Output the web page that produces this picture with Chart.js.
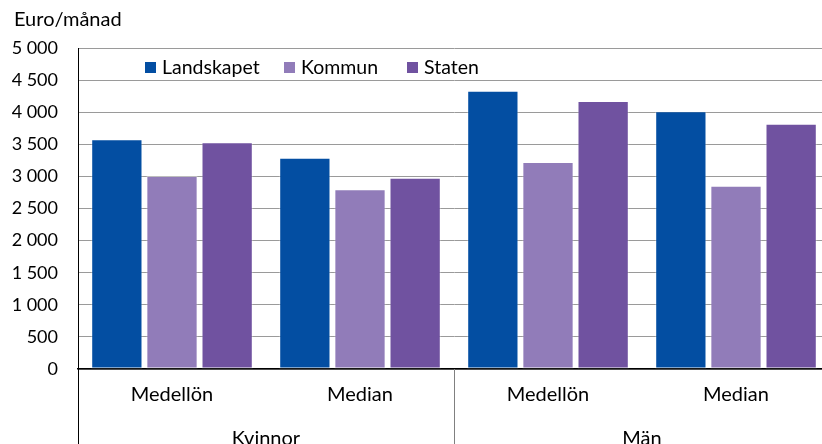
<!DOCTYPE html>
<html>
<head>
<meta charset="utf-8">
<script src="https://cdn.jsdelivr.net/npm/chart.js@4.4.1/dist/chart.umd.min.js"></script>
<style>
  html, body { margin: 0; padding: 0; background: #fff; overflow: hidden; }
  #wrap { width: 832px; height: 444px; position: relative; }
</style>
</head>
<body>
<div id="wrap"><canvas id="chart"></canvas></div>
<script>
// data
var categories = ["Medellön", "Median", "Medellön", "Median"];
var groups = ["Kvinnor", "Män"];
var seriesNames = ["Landskapet", "Kommun", "Staten"];
var landskapet = [3580, 3290, 4335, 4015];
var kommun = [3005, 2800, 3225, 2855];
var staten = [3530, 2980, 4175, 3820];
var yTitle = "Euro/månad";

var colors = ["#034EA2", "#917CB9", "#7052A0"];
var FONT = "Lato";

function fmt(v) {
  return String(v).replace(/\B(?=(\d{3})+(?!\d))/g, " ");
}

// title, legend inside the plot, group labels and dividers under the x axis
var extras = {
  id: "extras",
  afterDraw: function(chart) {
    var ctx = chart.ctx, area = chart.chartArea, x = chart.scales.x;
    ctx.save();
    ctx.fillStyle = "#000";
    ctx.font = "20px " + FONT;
    ctx.textBaseline = "alphabetic";
    ctx.textAlign = "left";
    ctx.fillText(yTitle, 14, 26);

    // legend
    var lx = [145, 284, 407];
    ctx.font = "19.5px " + FONT;
    chart.data.datasets.forEach(function(ds, i) {
      ctx.fillStyle = ds.backgroundColor;
      ctx.fillRect(lx[i], 62, 11, 11);
      ctx.fillStyle = "#000";
      ctx.fillText(ds.label, lx[i] + 17, 74);
    });

    // group dividers and labels
    var h = chart.height;
    var mid = (x.getPixelForValue(1) + x.getPixelForValue(2)) / 2;
    ctx.strokeStyle = "#000";
    ctx.lineWidth = 1;
    ctx.beginPath();
    ctx.moveTo(area.left + 0.5, area.bottom);
    ctx.lineTo(area.left + 0.5, h);
    ctx.stroke();
    ctx.strokeStyle = "#808080";
    ctx.beginPath();
    ctx.moveTo(Math.round(mid) + 0.5, area.bottom);
    ctx.lineTo(Math.round(mid) + 0.5, h);
    ctx.stroke();

    ctx.font = "20px " + FONT;
    ctx.fillStyle = "#000";
    ctx.textAlign = "center";
    groups.forEach(function(g, i) {
      var cx = (x.getPixelForValue(i * 2) + x.getPixelForValue(i * 2 + 1)) / 2;
      ctx.fillText(g, cx, 445);
    });
    ctx.restore();
  }
};

new Chart(document.getElementById("chart"), {
  type: "bar",
  data: {
    labels: categories,
    datasets: [
      { label: seriesNames[0], data: landskapet, backgroundColor: colors[0] },
      { label: seriesNames[1], data: kommun, backgroundColor: colors[1] },
      { label: seriesNames[2], data: staten, backgroundColor: colors[2] }
    ]
  },
  options: {
    responsive: true,
    maintainAspectRatio: false,
    animation: false,
    layout: { padding: { top: 48, left: 0, right: 2, bottom: 40 } },
    datasets: {
      bar: {
        categoryPercentage: 0.88,
        barPercentage: 0.93,
        borderWidth: 1,
        borderColor: "rgba(255,255,255,0.35)",
        borderSkipped: false
      }
    },
    plugins: {
      legend: { display: false },
      tooltip: { enabled: false }
    },
    scales: {
      x: {
        grid: { display: false, drawTicks: false },
        border: { display: true, color: "#000", width: 1.5 },
        ticks: { color: "#000", font: { family: FONT, size: 20 }, padding: 14, maxRotation: 0 },
        afterFit: function(s) { s.height = 35; }
      },
      y: {
        min: 0,
        max: 5000,
        grid: { color: "#9a9a9a", lineWidth: 1, drawTicks: false },
        border: { display: true, color: "#000", width: 1 },
        ticks: {
          stepSize: 500,
          color: "#000",
          font: { family: FONT, size: 18 },
          padding: 20,
          callback: function(v) { return fmt(v); }
        },
        afterFit: function(s) { s.width = 78; }
      }
    }
  },
  plugins: [extras]
});
</script>
</body>
</html>
